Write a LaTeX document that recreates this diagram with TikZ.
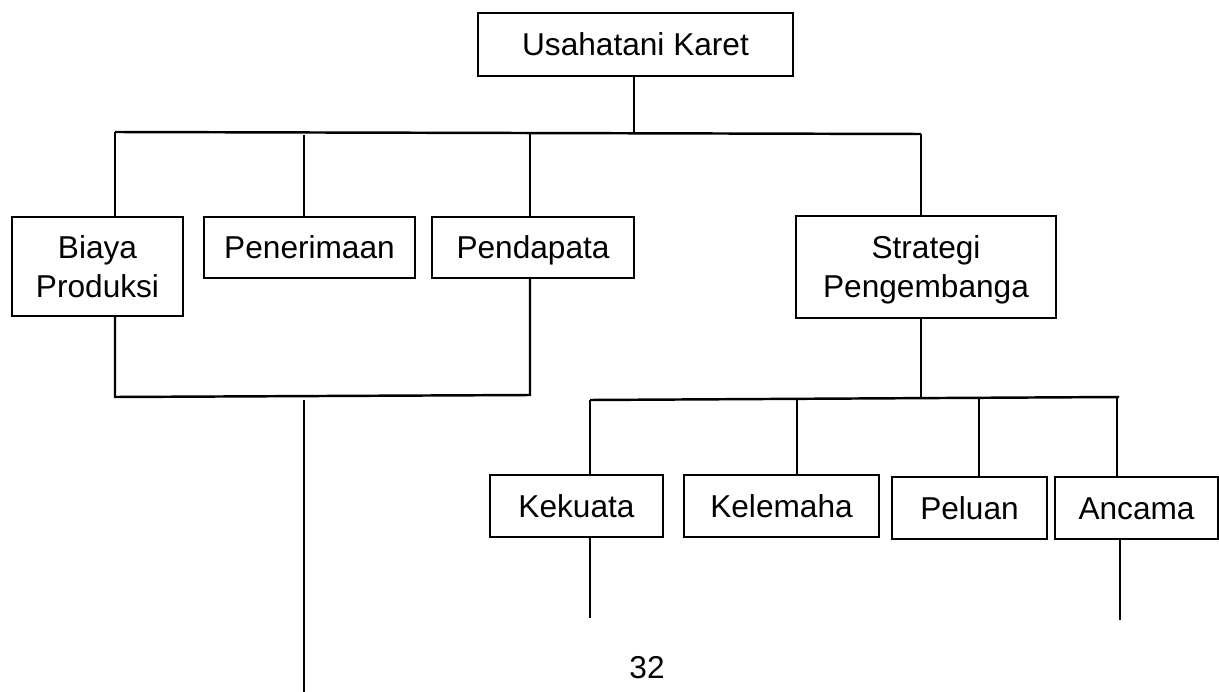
\documentclass[tikz,border=0pt]{standalone}
\usepackage{fontspec}
\setmainfont{Liberation Sans}
\begin{document}
\begin{tikzpicture}[x=0.02cm,y=-0.02cm,
  boxbase/.style={draw,line width=1.4pt,inner sep=0pt,align=center,font=\fontsize{18}{22.2}\selectfont},
  box/.style={boxbase,text height=14.7pt,text depth=1.8pt},
  boxtwo/.style={boxbase,text height=36.9pt,text depth=1.8pt},
  conn/.style={line width=1.4pt},
  lbl/.style={inner sep=0pt,font=\fontsize{18}{22.2}\selectfont}]
\useasboundingbox (0,0) rectangle (1219,692);
% boxes
\node[box,minimum width=315*0.02cm,minimum height=63*0.02cm] (top) at (635.5,44.5) {Usahatani Karet};
\node[boxtwo,minimum width=171*0.02cm,minimum height=99*0.02cm] (biaya) at (97.5,266.5) {Biaya\\Produksi};
\node[box,minimum width=211*0.02cm,minimum height=61*0.02cm] (pener) at (309.5,247.5) {Penerimaan};
\node[box,minimum width=202*0.02cm,minimum height=61*0.02cm] (pendap) at (533,247.5) {Pendapata};
\node[boxtwo,minimum width=260*0.02cm,minimum height=102*0.02cm] (strat) at (926,267) {Strategi\\Pengembanga};
\node[box,minimum width=173*0.02cm,minimum height=62*0.02cm] (kek) at (576.5,506) {Kekuata};
\node[box,minimum width=195*0.02cm,minimum height=62*0.02cm] (kel) at (781.5,506) {Kelemaha};
\node[box,minimum width=155*0.02cm,minimum height=62*0.02cm] (pel) at (969.5,508) {Peluan};
\node[box,minimum width=163*0.02cm,minimum height=62*0.02cm] (anc) at (1136.5,508) {Ancama};
\node[lbl] (page) at (647,668) {32};
% junction coordinates
\coordinate (hL) at (115,132);
\coordinate (hT) at (634,133);
\coordinate (hR) at (921,134);
\coordinate (hPe) at (304,135);
\coordinate (hPd) at (530,133);
\coordinate (lL) at (115,397);
\coordinate (lR) at (530,395);
\coordinate (dStart) at (304,400);
\coordinate (dEnd) at (304,692);
\coordinate (sJ) at (921,398);
\coordinate (sL) at (590,400);
\coordinate (sR) at (1119,397);
\coordinate (sKel) at (797,399);
\coordinate (sPel) at (979,398);
\coordinate (sAnc) at (1117,397);
\coordinate (kekEnd) at (590,618);
\coordinate (ancEnd) at (1120,620);
% upper tree
\draw[conn] (top.south -| hT) -- (hT);
\draw[conn] (hL) -- (hR);
\draw[conn] (hL) -- (biaya.north -| hL);
\draw[conn] (hPe) -- (pener.north -| hPe);
\draw[conn] (hPd) -- (pendap.north -| hPd);
\draw[conn] (hR) -- (strat.north -| hR);
% lower left bracket
\draw[conn] (biaya.south -| lL) -- (lL) -- (lR) -- (pendap.south -| lR);
\draw[conn] (dStart) -- (dEnd);
% strategy subtree
\draw[conn] (strat.south -| sJ) -- (sJ);
\draw[conn] (sL) -- (sR);
\draw[conn] (sL) -- (kek.north -| sL);
\draw[conn] (sKel) -- (kel.north -| sKel);
\draw[conn] (sPel) -- (pel.north -| sPel);
\draw[conn] (sAnc) -- (anc.north -| sAnc);
\draw[conn] (kek.south -| kekEnd) -- (kekEnd);
\draw[conn] (anc.south -| ancEnd) -- (ancEnd);
\end{tikzpicture}
\end{document}
